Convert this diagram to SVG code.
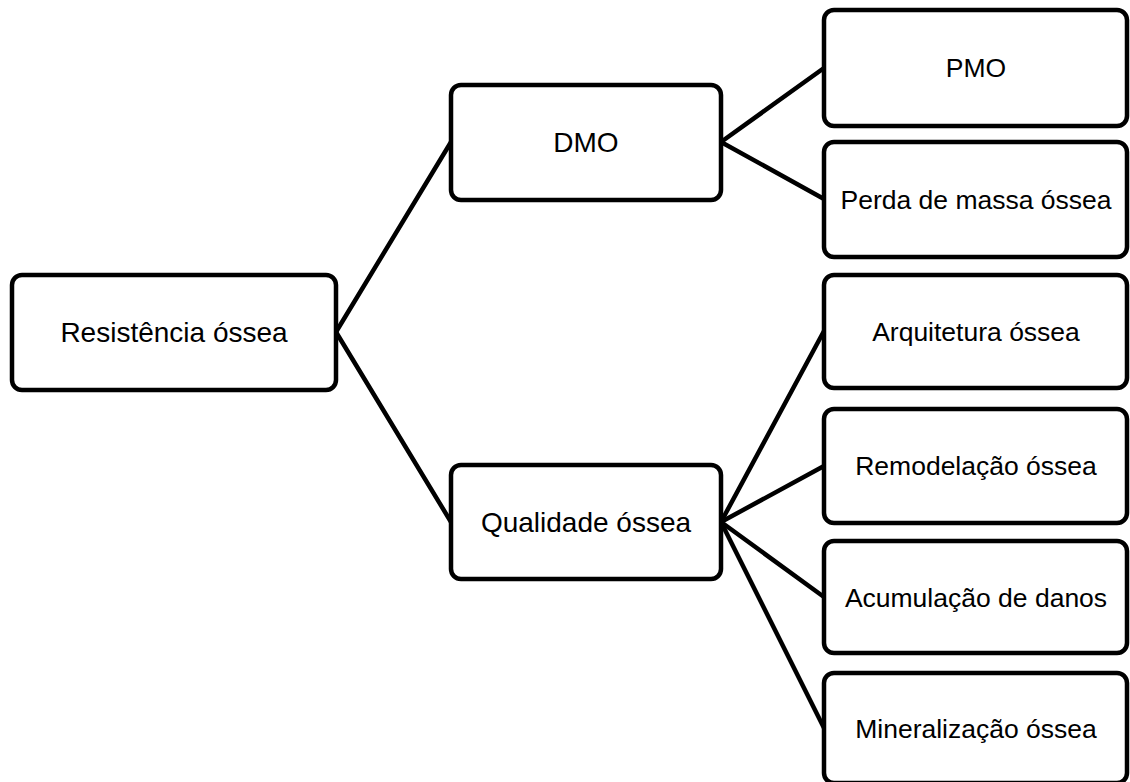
<svg xmlns="http://www.w3.org/2000/svg" width="1130" height="782" viewBox="0 0 1130 782">
<style>
.box{fill:#fff;stroke:#000;stroke-width:4.5}
.t{font-family:"Liberation Sans",Arial,sans-serif;fill:#000;text-anchor:middle}
.l{font-size:28px}
.r{font-size:26.5px}
.c{stroke:#000;stroke-width:4.5;fill:none;stroke-linecap:round}
</style>
<rect width="1130" height="782" fill="#fff"/>
<g id="connectors">
<line class="c" x1="336" y1="332" x2="451" y2="142"/>
<line class="c" x1="336" y1="332" x2="451" y2="522"/>
<line class="c" x1="721" y1="142" x2="824" y2="68"/>
<line class="c" x1="721" y1="142" x2="824" y2="199"/>
<line class="c" x1="721" y1="522" x2="824" y2="331"/>
<line class="c" x1="721" y1="522" x2="824" y2="466"/>
<line class="c" x1="721" y1="522" x2="824" y2="597"/>
<line class="c" x1="721" y1="522" x2="824" y2="728"/>
</g>
<g id="resistencia"><rect class="box" x="12" y="275" width="324" height="115" rx="10"/><text class="t l" x="174" y="342">Resistência óssea</text></g>
<g id="dmo"><rect class="box" x="451" y="85" width="270" height="115" rx="10"/><text class="t l" x="586" y="152">DMO</text></g>
<g id="qualidade"><rect class="box" x="451" y="465" width="270" height="114" rx="10"/><text class="t l" x="586" y="532">Qualidade óssea</text></g>
<g id="pmo"><rect class="box" x="824" y="10" width="303" height="116" rx="10"/><text class="t r" x="976" y="77">PMO</text></g>
<g id="perda"><rect class="box" x="824" y="142" width="303" height="115" rx="10"/><text class="t r" x="976" y="209">Perda de massa óssea</text></g>
<g id="arquitetura"><rect class="box" x="824" y="275" width="303" height="113" rx="10"/><text class="t r" x="976" y="341">Arquitetura óssea</text></g>
<g id="remodelacao"><rect class="box" x="824" y="409" width="303" height="114" rx="10"/><text class="t r" x="976" y="475">Remodelação óssea</text></g>
<g id="acumulacao"><rect class="box" x="824" y="541" width="303" height="112" rx="10"/><text class="t r" x="976" y="607">Acumulação de danos</text></g>
<g id="mineralizacao"><rect class="box" x="824" y="673" width="303" height="110" rx="10"/><text class="t r" x="976" y="738">Mineralização óssea</text></g>
</svg>
